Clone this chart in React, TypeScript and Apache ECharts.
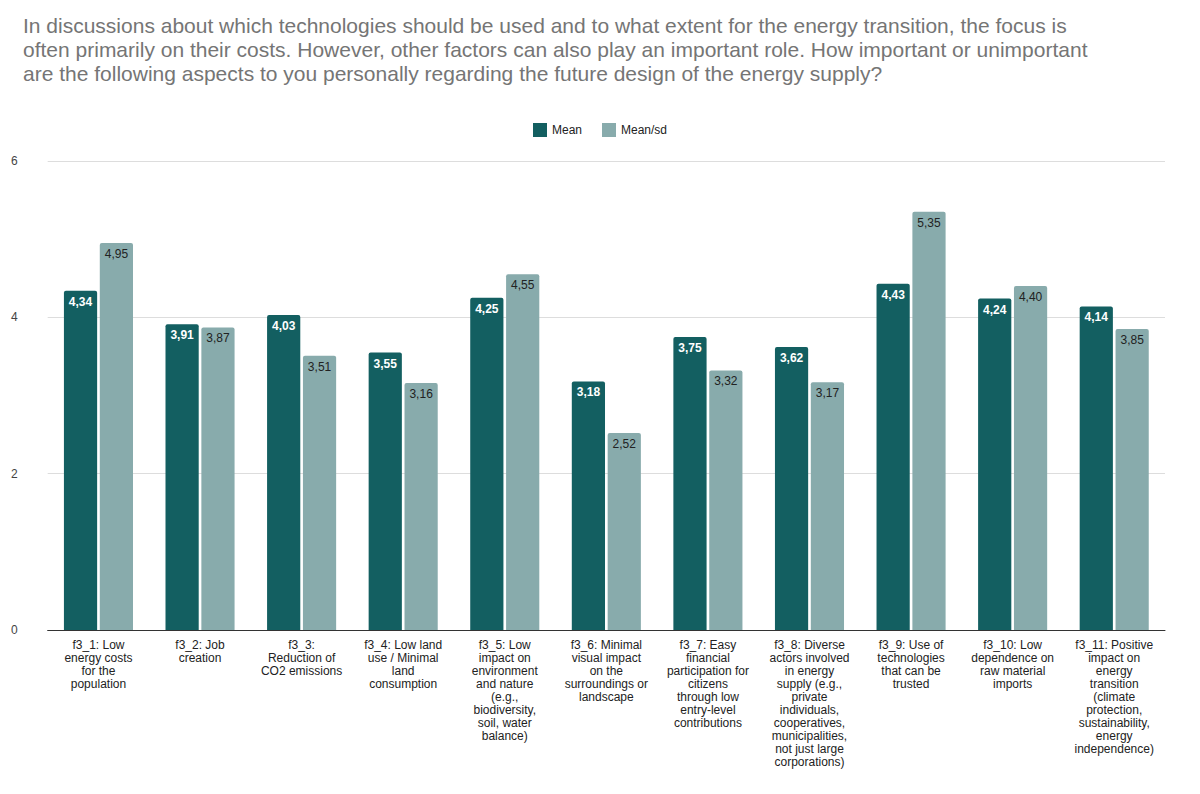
import { useRef, useEffect } from "react";
import * as echarts from "echarts";

const titleText =
  "In discussions about which technologies should be used and to what extent for the energy transition, the focus is\noften primarily on their costs. However, other factors can also play an important role. How important or unimportant\nare the following aspects to you personally regarding the future design of the energy supply?";

const categories = [
  "f3_1: Low\nenergy costs\nfor the\npopulation",
  "f3_2: Job\ncreation",
  "f3_3:\nReduction of\nCO2 emissions",
  "f3_4: Low land\nuse / Minimal\nland\nconsumption",
  "f3_5: Low\nimpact on\nenvironment\nand nature\n(e.g.,\nbiodiversity,\nsoil, water\nbalance)",
  "f3_6: Minimal\nvisual impact\non the\nsurroundings or\nlandscape",
  "f3_7: Easy\nfinancial\nparticipation for\ncitizens\nthrough low\nentry-level\ncontributions",
  "f3_8: Diverse\nactors involved\nin energy\nsupply (e.g.,\nprivate\nindividuals,\ncooperatives,\nmunicipalities,\nnot just large\ncorporations)",
  "f3_9: Use of\ntechnologies\nthat can be\ntrusted",
  "f3_10: Low\ndependence on\nraw material\nimports",
  "f3_11: Positive\nimpact on\nenergy\ntransition\n(climate\nprotection,\nsustainability,\nenergy\nindependence)",
];

const meanValues = [4.34, 3.91, 4.03, 3.55, 4.25, 3.18, 3.75, 3.62, 4.43, 4.24, 4.14];
const meanSdValues = [4.95, 3.87, 3.51, 3.16, 4.55, 2.52, 3.32, 3.17, 5.35, 4.4, 3.85];

const fmt = (p: any) => Number(p.value).toFixed(2).replace(".", ",");

export default function App() {
  const ref = useRef<HTMLDivElement>(null);

  useEffect(() => {
    if (!ref.current) return;
    const chart = echarts.init(ref.current, null, { renderer: "svg" });
    chart.setOption({
      animation: false,
      textStyle: { fontFamily: "Liberation Sans, Arial, sans-serif" },
      title: {
        text: titleText,
        left: 10,
        top: 0,
        textStyle: { color: "#757575", fontSize: 21, fontWeight: "normal", lineHeight: 24 },
      },
      legend: {
        top: 110,
        left: "center",
        itemWidth: 14,
        itemHeight: 14,
        icon: "rect",
        itemGap: 20,
        textStyle: { color: "#222", fontSize: 12 },
      },
      grid: { left: 39, right: 27, top: 153, bottom: 156 },
      xAxis: {
        type: "category",
        data: categories,
        axisTick: { show: false },
        axisLine: { lineStyle: { color: "#333" } },
        axisLabel: { color: "#222", fontSize: 12, lineHeight: 13, interval: 0, margin: 8 },
      },
      yAxis: {
        type: "value",
        min: 0,
        max: 6,
        interval: 2,
        axisLabel: { color: "#444", fontSize: 12, margin: 30 },
        splitLine: { lineStyle: { color: "#ddd" } },
      },
      series: [
        {
          name: "Mean",
          type: "bar",
          data: meanValues,
          barGap: "8%",
          barCategoryGap: "32%",
          itemStyle: { color: "#135f61", borderRadius: [2, 2, 0, 0] },
          label: { show: true, position: "insideTop", color: "#fff", fontSize: 12, fontWeight: "bold", formatter: fmt },
        },
        {
          name: "Mean/sd",
          type: "bar",
          data: meanSdValues,
          itemStyle: { color: "#88abac", borderRadius: [2, 2, 0, 0] },
          label: { show: true, position: "insideTop", color: "#222", fontSize: 12, formatter: fmt },
        },
      ],
    });
    return () => chart.dispose();
  }, []);

  return <div ref={ref} style={{ width: 1184, height: 778 }} />;
}
